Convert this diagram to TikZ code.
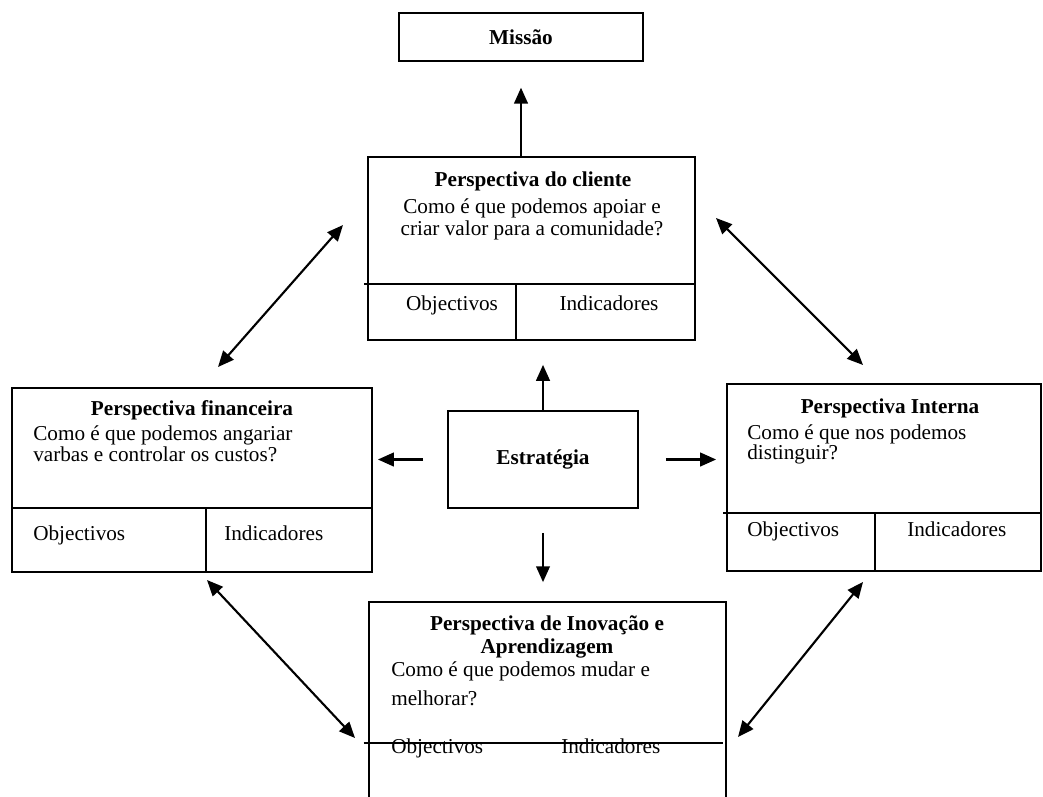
\documentclass[tikz,border=0pt]{standalone}
\usepackage{fontspec}
\setmainfont{Liberation Serif}
\usetikzlibrary{arrows.meta}

\tikzset{
	caixa/.style 2 args={draw, line width=1.2pt, rectangle, inner sep=0pt, minimum width=#1*0.66pt, minimum height=#2*0.66pt},
	texto/.style={inner sep=0pt, anchor=mid, font=\fontsize{14}{14.5}\selectfont},
	textoesq/.style={texto, anchor=mid west},
	titulo/.style={texto, font=\fontsize{14}{14.5}\selectfont\bfseries},
	linha/.style={line width=1.2pt},
	seta/.style={line width=1.4pt, -{Triangle[length=10.5pt, width=9pt]}},
	dupla/.style={line width=1.4pt, {Triangle[length=10.5pt, width=9pt]}-{Triangle[length=10.5pt, width=9pt]}}
}

\begin{document}
\begin{tikzpicture}[x=0.66pt, y=-0.66pt]
				\useasboundingbox (0,0) rectangle (1043,796);
				\clip (0,0) rectangle (1043,796);
				\node[caixa={244}{48}, titulo, anchor=center] (missao) at (521,37) {Missão};
				\node[caixa={190}{97}, titulo, anchor=center] (estrategia) at (543,459.5) {Estratégia};
				\node[caixa={327}{183}] (cliente) at (531.5,248.5) {};
				\node[caixa={360}{184}] (financeira) at (192,480) {};
				\node[caixa={314}{187}] (interna) at (884,477.5) {};
				\node[caixa={357}{208}] (inovacao) at (547.5,706) {};
				\node[titulo] (clititulo) at (533,183) {Perspectiva do cliente};
				\node[texto] (clitexto1) at (532,210) {Como é que podemos apoiar e};
				\node[texto] (clitexto2) at (532,232) {criar valor para a comunidade?};
				\node[texto] (cliobj) at (452,307) {Objectivos};
				\node[texto] (cliind) at (609,307) {Indicadores};
				\node[titulo] (fintitulo) at (192,412) {Perspectiva financeira};
				\node[textoesq] (fintexto1) at (33,437) {Como é que podemos angariar};
				\node[textoesq] (fintexto2) at (33,458) {varbas e controlar os custos?};
				\node[textoesq] (finobj) at (33,537) {Objectivos};
				\node[textoesq] (finind) at (224,537) {Indicadores};
				\node[titulo] (inttitulo) at (890,410) {Perspectiva Interna};
				\node[textoesq] (inttexto1) at (747,436) {Como é que nos podemos};
				\node[textoesq] (inttexto2) at (747,456) {distinguir?};
				\node[textoesq] (intobj) at (747,533) {Objectivos};
				\node[textoesq] (intind) at (907,533) {Indicadores};
				\node[titulo] (inotitulo1) at (547,627) {Perspectiva de Inovação e};
				\node[titulo] (inotitulo2) at (547,650) {Aprendizagem};
				\node[textoesq] (inotexto1) at (391,673) {Como é que podemos mudar e};
				\node[textoesq] (inotexto2) at (391,702) {melhorar?};
				\node[textoesq] (inoobj) at (391,750) {Objectivos};
				\node[textoesq] (inoind) at (561,750) {Indicadores};
				\coordinate (clidiv) at (516,284);
				\coordinate (findiv) at (206,508);
				\coordinate (intdiv) at (875,513);
				\coordinate (inodiv) at (723,743);
				\draw[linha] ([xshift=-2pt]cliente.west |- clidiv) -- (cliente.east |- clidiv);
				\draw[linha] (clidiv) -- (clidiv |- cliente.south);
				\draw[linha] (financeira.west |- findiv) -- (financeira.east |- findiv);
				\draw[linha] (findiv) -- (findiv |- financeira.south);
				\draw[linha] ([xshift=-2pt]interna.west |- intdiv) -- (interna.east |- intdiv);
				\draw[linha] (intdiv) -- (intdiv |- interna.south);
				\draw[linha] ([xshift=-3pt]inovacao.west |- inodiv) -- (inodiv);
				\draw[seta, shorten >=17pt] (cliente.north -| missao.south) -- (missao.south);
				\draw[seta, shorten >=15.8pt] (estrategia.north) -- (estrategia.north |- cliente.south);
				\draw[seta, shorten <=15.8pt, shorten >=3.3pt] (estrategia.west) -- (estrategia.west -| financeira.east);
				\draw[seta, shorten <=17.8pt, shorten >=6.6pt] (estrategia.east) -- (estrategia.east -| interna.west);
				\draw[seta, shorten <=15.8pt, shorten >=12.5pt] (estrategia.south) -- (estrategia.south |- inovacao.north);
				\coordinate (cf1) at (343,225);
				\coordinate (cf2) at (218,367);
				\coordinate (ci1) at (716,218);
				\coordinate (ci2) at (863,365);
				\coordinate (fi1) at (207,580);
				\coordinate (fi2) at (355,738);
				\coordinate (ii1) at (863,582);
				\coordinate (ii2) at (738,737);
				\draw[dupla] (cf1) -- (cf2);
				\draw[dupla] (ci1) -- (ci2);
				\draw[dupla] (fi1) -- (fi2);
				\draw[dupla] (ii1) -- (ii2);
			\end{tikzpicture}
\end{document}
